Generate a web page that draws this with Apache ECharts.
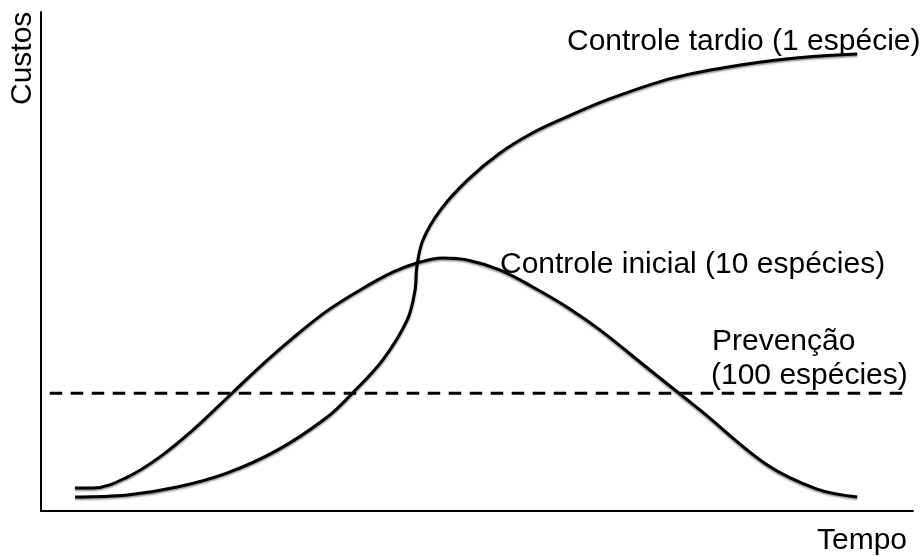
<!DOCTYPE html>
<html lang="pt">
<head>
<meta charset="UTF-8">
<title>Custos x Tempo</title>
<script src="https://cdn.jsdelivr.net/npm/echarts@6/dist/echarts.min.js"></script>
<style>
  html, body { margin: 0; padding: 0; background: #fff; }
  #chart { width: 922px; height: 556px; }
</style>
</head>
<body>
<div id="chart"></div>
<script>
// curva do controle tardio (1 espécie) - [tempo, custo]
var tardio = [
  [3.9, 2.8], [9.9, 3.2], [15.6, 4.8], [21.3, 7.6], [27.1, 12.2],
  [32.8, 18.8], [35.7, 23.6], [39.2, 30.3], [42.0, 38.3], [42.9, 44.3],
  [43.1, 48.9], [43.8, 54.3], [45.8, 60.3], [48.9, 66.3], [52.6, 71.7],
  [56.4, 75.8], [60.3, 79.0], [64.9, 82.4], [72.5, 86.8], [80.2, 89.4],
  [87.8, 91.0], [93.6, 91.6]
];
// controle inicial (10 espécies)
var inicial = [
  [3.9, 4.6], [6.0, 4.6], [9.9, 6.8], [13.6, 10.8], [17.4, 16.2],
  [21.9, 23.6], [25.1, 28.9], [28.9, 34.7], [32.8, 40.1], [36.6, 44.3],
  [40.4, 47.9], [43.1, 49.7], [46.1, 50.7], [48.9, 50.3], [52.6, 48.3],
  [56.4, 44.9], [60.3, 40.9], [64.1, 36.3], [69.8, 28.3], [75.6, 20.2],
  [83.3, 9.2], [89.0, 4.4], [93.6, 2.8]
];
// prevenção (100 espécies)
var prevencao = [[1.0, 23.6], [99.2, 23.6]];

var fonte = 'Liberation Sans, Arial, sans-serif';
var tam = 30;

var chart = echarts.init(document.getElementById('chart'));

var linha = {
  color: '#000',
  width: 3,
  shadowColor: 'rgba(0,0,0,0.45)',
  shadowBlur: 2,
  shadowOffsetY: 1.5
};

function texto(t, pos) {
  pos.type = 'text';
  pos.style = { text: t, font: tam + 'px ' + fonte, fill: '#000' };
  return pos;
}

var option = {
  animation: false,
  backgroundColor: '#fff',
  grid: { left: 41, right: 9, top: 12, bottom: 45 },
  xAxis: {
    type: 'value', min: 0, max: 100,
    axisLine: { show: true, lineStyle: { color: '#000', width: 2 } },
    axisTick: { show: false }, axisLabel: { show: false }, splitLine: { show: false }
  },
  yAxis: {
    type: 'value', min: 0, max: 100,
    axisLine: { show: true, lineStyle: { color: '#000', width: 2 } },
    axisTick: { show: false }, axisLabel: { show: false }, splitLine: { show: false }
  },
  series: [
    { type: 'line', data: tardio, smooth: 0.35, showSymbol: false, lineStyle: linha },
    { type: 'line', data: inicial, smooth: 0.35, showSymbol: false, lineStyle: linha },
    {
      type: 'line', data: prevencao, showSymbol: false,
      lineStyle: { color: '#000', width: 3, type: [12.5, 8.5] }
    }
  ],
  graphic: [
    texto('Controle tardio (1 espécie)', { left: 567, top: 27 }),
    texto('Controle inicial (10 espécies)', { left: 500, top: 250 }),
    texto('Prevenção', { left: 712, top: 327 }),
    texto('(100 espécies)', { left: 711, top: 361 }),
    texto('Tempo', { left: 817, top: 526 }),
    texto('Custos', { x: 8, y: 105, rotation: Math.PI / 2 })
  ]
};

chart.setOption(option);
</script>
</body>
</html>
